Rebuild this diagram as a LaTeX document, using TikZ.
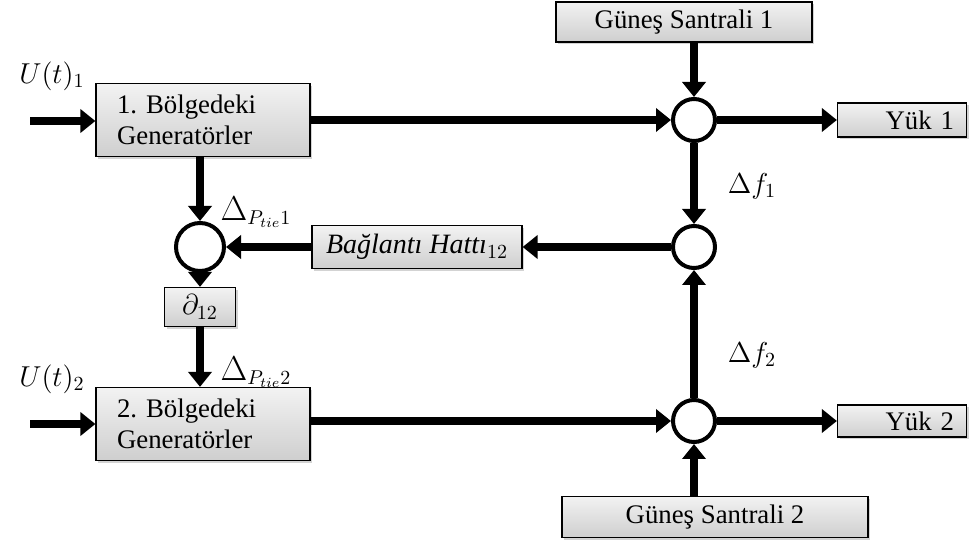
\documentclass[tikz,border=0pt]{standalone}
\usepackage{fontspec}
\setmainfont{Liberation Serif}
\usetikzlibrary{arrows.meta,shadows}
\frenchspacing

\begin{document}
\begin{tikzpicture}[
x=0.5pt, y=-0.5pt,
font=\fontsize{13.4}{15.5}\selectfont,
blok/.style={
    draw=black, line width=0.6pt,
    top color=gray!10, bottom color=gray!38,
    drop shadow={shadow xshift=1.2pt, shadow yshift=-1.2pt, opacity=0.35},
    inner sep=2pt},
toplam/.style={circle, draw=black, line width=2pt, fill=white, minimum size=21pt, inner sep=0pt},
ok/.style={line width=3.6pt, -{Triangle[length=7.5pt,width=11.5pt]}},
etiket/.style={font=\fontsize{14}{16}\selectfont},
]
\useasboundingbox (0,0) rectangle (974,544);

% bolge bloklari
\node[blok, minimum width=107pt, minimum height=36.5pt, text width=86pt, align=left] (gen1) at (203,120)
   {1. Bölgedeki\\Generatörler};
\node[blok, minimum width=107pt, minimum height=36.5pt, text width=86pt, align=left] (gen2) at (203,424)
   {2. Bölgedeki\\Generatörler};
\node[blok, minimum width=128pt, minimum height=20pt] (gs1) at (684,22) {Güneş Santrali 1};
\node[blok, minimum width=153pt, minimum height=20.5pt] (gs2) at (715,517) {Güneş Santrali 2};
\node[blok, minimum width=64.5pt, minimum height=17pt, align=right, text width=52pt] (yuk1) at (902,120) {Yük 1};
\node[blok, minimum width=64.5pt, minimum height=16pt, align=right, text width=52pt] (yuk2) at (902,421) {Yük 2};
\node[blok, minimum width=105pt, minimum height=21.5pt, etiket] (hat) at (417,247) {\textit{Bağlantı Hattı}$_{12}$};
\node[blok, minimum width=35.5pt, minimum height=19.5pt, etiket] (del) at (200,307) {$\partial_{12}$};

% toplama noktalari
\node[toplam] (c1) at (694,120) {};
\node[toplam] (c2) at (694,247) {};
\node[toplam, minimum size=24pt] (c3) at (200,247) {};
\node[toplam] (c4) at (694,421) {};

% girisler
\coordinate (u1) at (30,121);
\coordinate (u2) at (30,424);
\node[etiket] (lu1) at (52,76) {$U(t)_1$};
\node[etiket] (lu2) at (52,379) {$U(t)_2$};

% baglantilar
\draw[ok] (u1) -- (gen1.west |- u1);
\draw[ok] (u2) -- (gen2.west |- u2);
\draw[ok] (gen1.east) -- (c1.west);
\draw[ok] (gen2.east |- c4) -- (c4.west);
\draw[ok] (gs1.south -| c1) -- (c1.north);
\draw[ok] (gs2.north -| c4) -- (c4.south);
\draw[ok] (c1.east) -- (yuk1.west);
\draw[ok] (c4.east) -- (yuk2.west |- c4);
\draw[ok] (c1.south) -- (c2.north);
\draw[ok] (c4.north) -- (c2.south);
\draw[ok] (c2.west) -- (hat.east);
\draw[ok] (hat.west) -- (c3.east);
\draw[ok] (c3 |- gen1.south) -- (c3.north);
\draw[ok] (c3.south) -- (del.north);
\draw[ok] (del.south) -- (c3 |- gen2.north);

% etiketler
\node[etiket] (df1) at (752,186) {$\Delta f_1$};
\node[etiket] (df2) at (752,355) {$\Delta f_2$};
\node[etiket] (dp1) at (256,212) {{\LARGE$\Delta$}$_{P_{tie}1}$};
\node[etiket] (dp2) at (256,372) {{\LARGE$\Delta$}$_{P_{tie}2}$};

\end{tikzpicture}
\end{document}
